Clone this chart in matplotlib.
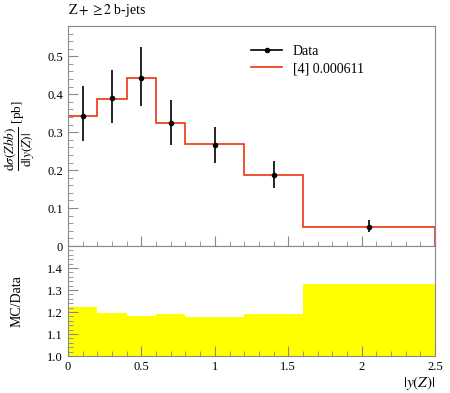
import matplotlib.pyplot as plt
from matplotlib.ticker import MultipleLocator
from matplotlib.lines import Line2D

# bin edges in |y(Z)|
edges = [0.0, 0.2, 0.4, 0.6, 0.8, 1.2, 1.6, 2.5]
data_x = [0.1, 0.3, 0.5, 0.7, 1.0, 1.4, 2.05]
data_y = [0.343, 0.389, 0.443, 0.323, 0.267, 0.187, 0.051]
err_lo = [0.066, 0.066, 0.073, 0.058, 0.048, 0.033, 0.014]
err_hi = [0.078, 0.076, 0.082, 0.063, 0.047, 0.036, 0.017]
mc_y = [0.343, 0.388, 0.443, 0.323, 0.268, 0.188, 0.051]
ratio = [1.221, 1.194, 1.183, 1.191, 1.176, 1.192, 1.327]

plt.rcParams['font.family'] = ['Liberation Serif', 'DejaVu Serif']
plt.rcParams['mathtext.fontset'] = 'stix'

fig = plt.figure(figsize=(4.5, 3.93), dpi=100)
ax = fig.add_axes([0.151, 0.374, 0.816, 0.560])
axr = fig.add_axes([0.151, 0.094, 0.816, 0.280])

grey = '#888888'
for a in (ax, axr):
    for s in a.spines.values():
        s.set_color(grey)
    a.tick_params(which='both', direction='in', color=grey, labelsize=9,
                  top=False, right=False)
    a.tick_params(which='major', length=7)
    a.tick_params(which='minor', length=3.5)
    a.set_xlim(0, 2.5)
    a.xaxis.set_major_locator(MultipleLocator(0.5))
    a.xaxis.set_minor_locator(MultipleLocator(0.1))

red = '#ee3311'
ax.stairs(mc_y, edges, color=red, lw=1.2)
ax.errorbar(data_x, data_y, yerr=[err_lo, err_hi], fmt='o', color='black',
            ms=3, lw=1.2)
ax.set_ylim(0, 0.58)
ax.yaxis.set_minor_locator(MultipleLocator(0.02))
ax.set_yticks([0, 0.1, 0.2, 0.3, 0.4, 0.5])
ax.set_yticklabels(['0', '0.1', '0.2', '0.3', '0.4', '0.5'])
ax.tick_params(labelbottom=False)
ax.set_ylabel(r'$\dfrac{\mathrm{d}\sigma(Zbb)}{\mathrm{d}|y(Z)|}$ [pb]', fontsize=9.5)
handles = [Line2D([], [], color='black', marker='o', ms=3, lw=1.2),
           Line2D([], [], color=red, lw=1.2)]
ax.legend(handles, ['Data', '[4] 0.000611'], loc='upper right', frameon=False,
          fontsize=10, bbox_to_anchor=(0.84, 0.97), handlelength=2.2,
          labelspacing=0.3)
ax.text(0.0, 1.03, r'$\mathrm{Z}+\geq 2$ b-jets', transform=ax.transAxes,
        fontsize=10, va='bottom', ha='left')

axr.stairs(ratio, edges, baseline=1.0, fill=True, color='#ffff00', lw=0)
axr.set_ylim(1.0, 1.5)
axr.yaxis.set_minor_locator(MultipleLocator(0.02))
axr.set_yticks([1.0, 1.1, 1.2, 1.3, 1.4])
axr.set_yticklabels(['1.0', '1.1', '1.2', '1.3', '1.4'])
axr.set_xticks([0, 0.5, 1, 1.5, 2, 2.5])
axr.set_xticklabels(['0', '0.5', '1', '1.5', '2', '2.5'])
axr.set_ylabel('MC/Data', fontsize=10)
axr.set_xlabel(r'$|y(Z)|$', fontsize=11, loc='right', labelpad=1)

ax.yaxis.set_label_coords(-0.085, 0.5)
axr.yaxis.set_label_coords(-0.12, 0.5)

fig.savefig('out.png', dpi=100)
